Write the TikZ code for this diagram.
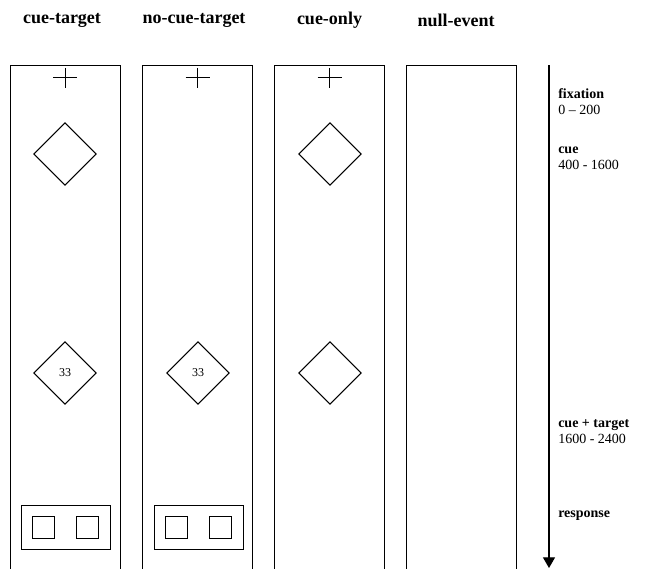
\documentclass[tikz,border=0pt]{standalone}
\usepackage{fontspec}
\setmainfont{Liberation Serif}
\usetikzlibrary{arrows.meta,positioning,shapes.geometric}
\tikzset{
  panel/.style={draw, line width=0.7pt, minimum width=82.5pt, minimum height=390pt, inner sep=0pt},
  cueshape/.style={draw, diamond, aspect=1, line width=0.7pt, minimum size=47pt, inner sep=0pt,
    font=\fontsize{9}{10}\selectfont},
  respbox/.style={draw, line width=0.7pt, minimum width=66.75pt, minimum height=33pt, inner sep=0pt},
  keybox/.style={draw, line width=0.7pt, minimum size=16.5pt, inner sep=0pt},
  head/.style={inner sep=0pt, font=\bfseries\fontsize{13.5}{15}\selectfont},
  phase/.style={anchor=north west, align=left, inner sep=0pt, font=\fontsize{10.5}{12}\selectfont},
  timeflow/.style={-{Triangle[width=9pt,length=8pt]}, line width=0.9pt}
}
\begin{document}
\begin{tikzpicture}[x=0.75pt, y=-0.75pt]
  \useasboundingbox (0,0) rectangle (652,568);
  % trial types
  \node[panel] (ct)  at (65,325)    {};
  \node[panel] (nct) at (197.5,325) {};
  \node[panel] (co)  at (329.5,325) {};
  \node[panel] (ne)  at (461,325)   {};
  \node[head] (hct)  at (62,20)    {cue-target};
  \node[head] (hnct) at (194,20) {no-cue-target};
  \node[head] (hco)  at (329.5,20) {cue-only};
  \node[head] (hne)  at (456,20)   {null-event};
  % fixation crosses
  \foreach \p in {ct,nct,co}
    \draw[line width=0.75pt] ([yshift=-9.5pt]\p.north) ++(-9pt,0) -- ++(18pt,0)
      ([yshift=-2.5pt]\p.north) -- ++(0,-15pt);
  % cues
  \node[cueshape] (cuect) at (65,154)  {};
  \node[cueshape] (cueco) at (330,154) {};
  % cue + target
  \node[cueshape] (tgct)  at (65,373)  {33};
  \node[cueshape] (tgnct) at (198,373) {33};
  \node[cueshape] (tgco)  at (330,373) {};
  % response panels
  \node[respbox] (rct)  at (65.5,527)  {};
  \node[respbox] (rnct) at (198.5,527) {};
  \foreach \r in {rct,rnct} {
    \node[keybox] at ([xshift=-16.5pt]\r.center) {};
    \node[keybox] at ([xshift=16.5pt]\r.center) {};
  }
  % time axis
  \coordinate (tstart) at (549,65);
  \coordinate (tend) at (549,568);
  \draw[timeflow] (tstart) -- (tend);
  \node[phase] (pfix)  at (558,88)  {\textbf{fixation}\\0 -- 200};
  \node[phase] (pcue)  at (558,147) {\textbf{cue}\\400 - 1600};
  \node[phase] (ptgt)  at (558,419) {\textbf{cue + target}\\1600 - 2400};
  \node[phase] (presp) at (558,511) {\textbf{response}};
\end{tikzpicture}
\end{document}
